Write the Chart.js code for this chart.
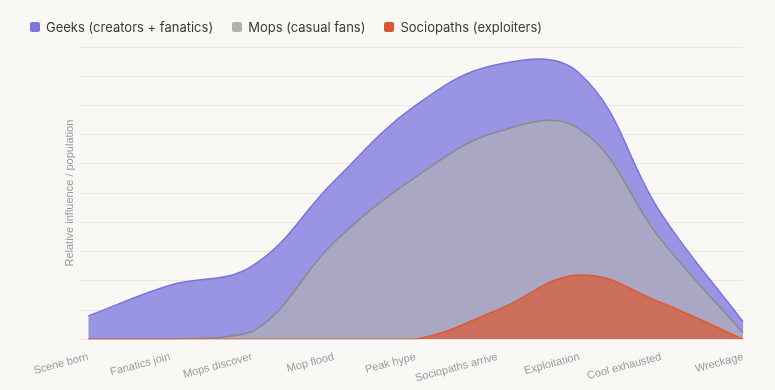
<!DOCTYPE html>
<html>
<head>
<meta charset="utf-8">
<script src="https://cdn.jsdelivr.net/npm/chart.js@4/dist/chart.umd.min.js"></script>
<style>
  html, body { margin: 0; padding: 0; background: #f9f8f5; }
  #wrap { position: relative; width: 775px; height: 390px; }
  #legend { position: absolute; left: 30px; top: 19px; display: flex; font-family: Inter, sans-serif; font-size: 13px; color: #3a3a3a; }
  .item { display: flex; align-items: center; margin-right: 19px; }
  .box { width: 10px; height: 10px; border-radius: 2px; margin-right: 6px; }
</style>
</head>
<body>
<div id="wrap">
  <div id="legend"></div>
  <canvas id="chart" width="775" height="390"></canvas>
</div>
<script>
const stages = ['Scene born', 'Fanatics join', 'Mops discover', 'Mop flood', 'Peak hype', 'Sociopaths arrive', 'Exploitation', 'Cool exhausted', 'Wreckage'];
const geeks = [8, 18.5, 25, 54, 80, 94, 91, 43, 6];
const mops = [0, 0, 2.5, 33, 55.5, 71, 72, 34, 2.2];
const sociopaths = [0, 0, 0, 0, 0, 10, 22, 12.5, 0];

const seriesNames = ['Geeks (creators + fanatics)', 'Mops (casual fans)', 'Sociopaths (exploiters)'];
const swatches = ['#7d75de', '#b5b2aa', '#d9572f'];

// legend drawn as plain html so the boxes stay solid
const legendEl = document.getElementById('legend');
seriesNames.forEach(function(name, i) {
    const item = document.createElement('div');
    item.className = 'item';
    item.innerHTML = '<span class="box" style="background:' + swatches[i] + '"></span>' + name;
    legendEl.appendChild(item);
});

const ctx = document.getElementById('chart').getContext('2d');
new Chart(ctx, {
    type: 'line',
    data: {
        labels: stages,
        datasets: [
            {
                label: seriesNames[0],
                data: geeks,
                borderColor: '#7b72e0',
                backgroundColor: 'rgba(125,117,222,0.77)',
                borderWidth: 1.5,
                fill: 'origin',
                order: 3
            },
            {
                label: seriesNames[1],
                data: mops,
                borderColor: '#8a8a88',
                backgroundColor: 'rgba(180,178,175,0.6)',
                borderWidth: 1.5,
                fill: 'origin',
                order: 2
            },
            {
                label: seriesNames[2],
                data: sociopaths,
                borderColor: '#de5a30',
                backgroundColor: 'rgba(215,88,50,0.72)',
                borderWidth: 1.5,
                fill: 'origin',
                order: 1
            }
        ]
    },
    options: {
        responsive: false,
        animation: false,
        layout: { padding: { left: 59, right: 32, top: 47, bottom: 2 } },
        elements: {
            point: { radius: 0 },
            line: { tension: 0.4 }
        },
        plugins: {
            legend: { display: false },
            tooltip: { enabled: false }
        },
        scales: {
            x: {
                grid: { display: false },
                border: { display: false },
                ticks: {
                    color: '#999',
                    font: { family: "'Liberation Sans', Arial, sans-serif", size: 11 },
                    minRotation: 15,
                    maxRotation: 15,
                    autoSkip: false
                }
            },
            y: {
                min: 0,
                max: 100,
                border: { display: false },
                grid: { color: '#e9e7e2', tickLength: 8 },
                ticks: { display: false, stepSize: 10 },
                title: {
                    display: true,
                    text: 'Relative influence / population',
                    color: '#999',
                    font: { family: "'Liberation Sans', Arial, sans-serif", size: 11 }
                }
            }
        }
    }
});
</script>
</body>
</html>
